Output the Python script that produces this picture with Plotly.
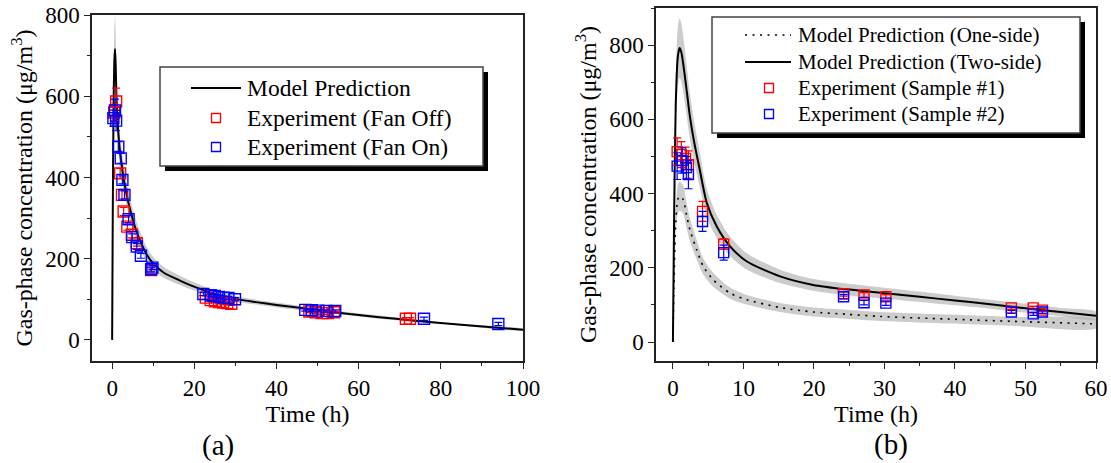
import plotly.graph_objects as go

W, H = 1111, 463
FONT = "Liberation Serif"

# ---------------- Panel (a): fan off / fan on ----------------
a_model_t = [0, 0.15, 0.35, 0.55, 0.7, 0.85, 1.1, 1.5, 1.95, 2.5, 3, 3.7, 4.4, 5.2, 6, 7,
             8.4, 10, 12.5, 16.5, 19, 25, 30, 35, 40, 47, 55, 65, 73, 85, 100]
a_model_c = [0, 300, 580, 690, 716, 680, 583, 510, 460, 418, 385, 350, 320, 290, 265, 240,
             210, 188, 166, 146, 135, 113, 101, 93, 86, 77, 67, 56, 48, 37, 25]
a_band_hi = [0, 340, 650, 770, 800, 760, 640, 560, 500, 455, 418, 380, 348, 316, 289, 262,
             229, 204, 180, 158, 146, 121, 108, 99, 92, 82, 71, 60, 51, 39, 27]
a_band_lo = [0, 260, 520, 620, 640, 610, 530, 465, 420, 384, 354, 322, 294, 266, 243, 220,
             193, 173, 153, 135, 125, 105, 94, 87, 80, 72, 63, 52, 45, 35, 23]

a_off_t = [0.5, 0.97, 1.95, 2.4, 2.8, 3.7, 4.8, 6.0, 9.5,
           22.8, 24.0, 25.0, 26.0, 27.0, 28.0, 29.0,
           48.0, 49.5, 51.0, 52.5, 54.0, 71.5, 72.5]
a_off_c = [560, 587, 410, 357, 316, 279, 259, 238, 172,
           104, 98, 95, 93, 92, 91, 89,
           70, 68, 66, 66, 68, 52, 52]
a_off_e = [20, 33, 12, 12, 10, 9, 8, 7, 5,
           4, 4, 4, 4, 4, 4, 4,
           3, 3, 3, 3, 3, 3, 3]

a_on_t = [0.3, 0.7, 0.97, 1.5, 2.1, 2.5, 3.0, 4.0, 4.9, 6.0, 7.0, 9.5, 9.8,
          22.2, 24.0, 25.0, 26.0, 27.1, 28.3, 29.9,
          47.0, 48.6, 50.2, 52.2, 54.3, 75.9, 94.0]
a_on_c = [546, 565, 540, 476, 447, 394, 357, 297, 253, 230, 207, 174, 178,
          113, 110, 108, 106, 104, 103, 100,
          74, 73, 72, 71, 71, 52, 39]
a_on_e = [20, 28, 25, 12, 12, 10, 10, 9, 8, 7, 6, 5, 5,
          4, 4, 4, 4, 4, 4, 4,
          3, 3, 3, 3, 3, 4, 4]

a_legend = ["Model Prediction", "Experiment (Fan Off)", "Experiment (Fan On)"]

# ---------------- Panel (b): one-side / two-side ----------------
b_two_t = [0, 0.15, 0.4, 0.7, 0.95, 1.2, 1.6, 2.0, 2.4, 3.0, 3.8, 4.8, 6.2, 8.1, 10.5,
           15.2, 19.9, 24.6, 29.4, 35, 40, 45, 50, 55, 60]
b_two_c = [0, 300, 640, 770, 792, 780, 730, 670, 609, 540, 465, 375, 312, 258, 217,
           177, 154, 142, 133, 122, 112, 102, 91, 81, 71]
b_two_hi = [0, 330, 705, 850, 872, 858, 803, 737, 670, 594, 512, 413, 343, 284, 239,
            195, 170, 158, 148, 136, 125, 114, 103, 92, 82]
b_two_lo = [0, 270, 575, 690, 712, 702, 657, 603, 548, 486, 418, 337, 281, 232, 195,
            159, 138, 126, 118, 108, 99, 90, 79, 70, 60]

b_one_t = [0, 0.15, 0.4, 0.7, 1.0, 1.46, 1.9, 2.4, 3.36, 4.3, 5.7, 8.1, 10.5, 15.2,
           19.9, 24.6, 29.4, 39, 48, 60]
b_one_c = [0, 150, 320, 385, 393, 384, 345, 303, 249, 204, 168, 132, 114, 93,
           81, 75, 69, 62, 56, 49]
b_one_hi = [0, 165, 352, 424, 432, 422, 380, 334, 275, 226, 187, 147, 127, 105,
            93, 87, 81, 74, 68, 61]
b_one_lo = [0, 135, 288, 346, 354, 346, 310, 272, 223, 182, 149, 117, 101, 81,
            69, 63, 57, 50, 44, 37]

b_s1_t = [0.6, 1.2, 1.8, 2.2, 4.2, 7.2, 24.2, 27.1, 30.2, 48.0, 51.1, 52.4]
b_s1_c = [513, 505, 495, 478, 352, 264, 130, 127, 122, 92, 92, 86]
b_s1_e = [37, 35, 30, 37, 27, 14, 6, 6, 6, 4, 4, 4]

b_s2_t = [0.6, 1.3, 1.9, 2.2, 4.2, 7.2, 24.2, 27.1, 30.2, 48.0, 51.1, 52.4]
b_s2_c = [474, 489, 470, 451, 325, 241, 122, 106, 105, 81, 76, 81]
b_s2_e = [36, 34, 30, 38, 27, 20, 6, 6, 6, 4, 4, 4]

b_legend = ["Model Prediction (One-side)", "Model Prediction (Two-side)",
            "Experiment (Sample #1)", "Experiment (Sample #2)"]

BAND = "rgba(185,185,185,0.72)"
RED = "#ff0000"
BLUE = "#0000ff"
DOTS = "2px,5.5px"


def band(t, lo, hi, xa, ya):
    return go.Scatter(x=list(t) + list(t)[::-1], y=list(hi) + list(lo)[::-1],
                      fill="toself", fillcolor=BAND, line=dict(width=0, shape="spline", smoothing=0.7),
                      mode="lines", hoverinfo="skip", showlegend=False,
                      xaxis=xa, yaxis=ya)


def curve(t, c, xa, ya, dash="solid", width=2):
    return go.Scatter(x=t, y=c, mode="lines", showlegend=False,
                      line=dict(color="black", width=width, dash=dash,
                                shape="spline", smoothing=0.7),
                      xaxis=xa, yaxis=ya)


def points(t, c, e, color, size, xa, ya):
    return go.Scatter(x=t, y=c, mode="markers", showlegend=False,
                      marker=dict(symbol="square-open", size=size, color=color,
                                  line=dict(width=1.4, color=color)),
                      error_y=dict(type="data", array=e, visible=True, color=color,
                                   thickness=1.2, width=4),
                      xaxis=xa, yaxis=ya)


fig = go.Figure()

# panel (a)
fig.add_trace(band(a_model_t, a_band_lo, a_band_hi, "x", "y"))
fig.add_trace(curve(a_model_t, a_model_c, "x", "y"))
fig.add_trace(points(a_off_t, a_off_c, a_off_e, RED, 11, "x", "y"))
fig.add_trace(points(a_on_t, a_on_c, a_on_e, BLUE, 11, "x", "y"))

# panel (b)
fig.add_trace(band(b_one_t, b_one_lo, b_one_hi, "x2", "y2"))
fig.add_trace(band(b_two_t, b_two_lo, b_two_hi, "x2", "y2"))
fig.add_trace(curve(b_one_t, b_one_c, "x2", "y2", dash=DOTS, width=1.6))
fig.add_trace(curve(b_two_t, b_two_c, "x2", "y2"))
fig.add_trace(points(b_s1_t, b_s1_c, b_s1_e, RED, 10, "x2", "y2"))
fig.add_trace(points(b_s2_t, b_s2_c, b_s2_e, BLUE, 10, "x2", "y2"))

AX = "#222222"
TICKFONT = dict(family=FONT, size=23, color="black")
TITLEFONT = dict(family=FONT, size=24, color="black")


def px_x(p):
    return p / W


def px_y(p):
    return (H - p) / H


def main_axis(domain, rng, dtick, minor_dtick, anchor, title, standoff):
    return dict(domain=domain, range=rng, dtick=dtick, tick0=0, anchor=anchor,
                showline=True, linecolor=AX, linewidth=1.5, mirror=True,
                ticks="outside", ticklen=6, tickwidth=1.4, tickcolor=AX,
                minor=dict(ticks="outside", ticklen=3, tickwidth=1.2, tickcolor=AX,
                           dtick=minor_dtick, tick0=0),
                showgrid=False, zeroline=False, tickfont=TICKFONT, automargin=False,
                title=dict(text=title, font=TITLEFONT, standoff=standoff))


def inner_axis(overlay, side, rng, dtick, minor_dtick, anchor):
    return dict(overlaying=overlay, side=side, range=rng, dtick=dtick, tick0=0, anchor=anchor,
                showline=False, ticks="inside", ticklen=4, tickwidth=1.2, tickcolor=AX,
                minor=dict(ticks="inside", ticklen=2, tickwidth=1, tickcolor=AX,
                           dtick=minor_dtick, tick0=0),
                showticklabels=False, showgrid=False, zeroline=False, automargin=False)


xa_dom = [px_x(92), px_x(523)]
xb_dom = [px_x(656), px_x(1096)]
ya_dom = [px_y(361), px_y(15)]
yb_dom = [px_y(361), px_y(8)]

xa_rng = [-4.9, 100]
ya_rng = [-52, 800]
xb_rng = [-2.4, 60]
yb_rng = [-51, 900]

ytitle = "Gas-phase concentration (\u03bcg/m<sup>3</sup>)"

fig.update_layout(
    width=W, height=H, margin=dict(l=0, r=0, t=0, b=0, autoexpand=False),
    paper_bgcolor="white", plot_bgcolor="rgba(0,0,0,0)",
    font=dict(family=FONT, color="black"), showlegend=False,
    xaxis=main_axis(xa_dom, xa_rng, 20, 10, "y", "Time (h)", 4),
    yaxis=main_axis(ya_dom, ya_rng, 200, 100, "x", ytitle, 6),
    xaxis2=main_axis(xb_dom, xb_rng, 10, 5, "y2", "Time (h)", 4),
    yaxis2=main_axis(yb_dom, yb_rng, 200, 100, "x2", ytitle, 6),
    xaxis3=inner_axis("x", "top", xa_rng, 20, 10, "y"),
    yaxis3=inner_axis("y", "right", ya_rng, 200, 100, "x"),
    xaxis4=inner_axis("x2", "top", xb_rng, 10, 5, "y2"),
    yaxis4=inner_axis("y2", "right", yb_rng, 200, 100, "x2"),
)

# legend frames with drop shadows
frames = [((160, 67, 483, 166), 5), ((712, 17, 1080, 133), 5)]
for (x0, y0, x1, y1), off in frames:
    fig.add_shape(type="rect", xref="paper", yref="paper",
                  x0=px_x(x0 + off), x1=px_x(x1 + off), y0=px_y(y1 + off), y1=px_y(y0 + off),
                  fillcolor="black", line=dict(width=0), layer="above")
    fig.add_shape(type="rect", xref="paper", yref="paper",
                  x0=px_x(x0), x1=px_x(x1), y0=px_y(y1), y1=px_y(y0),
                  fillcolor="white", line=dict(color="#444444", width=1.5), layer="above")


def legend_line(xc, yc, half, dash, width):
    fig.add_shape(type="line", xref="paper", yref="paper",
                  x0=px_x(xc - half), x1=px_x(xc + half), y0=px_y(yc), y1=px_y(yc),
                  line=dict(color="black", width=width, dash=dash), layer="above")


def legend_square(xc, yc, color, half=4.5):
    fig.add_shape(type="rect", xref="paper", yref="paper",
                  x0=px_x(xc - half), x1=px_x(xc + half), y0=px_y(yc + half), y1=px_y(yc - half),
                  line=dict(color=color, width=1.3), fillcolor="rgba(0,0,0,0)", layer="above")


def text_at(x, yc, text, size, xanchor):
    fig.add_annotation(text=text, x=px_x(x), y=px_y(yc), xref="paper", yref="paper",
                       xanchor=xanchor, yanchor="middle", showarrow=False,
                       font=dict(family=FONT, size=size, color="black"))


# legend of panel (a)
a_rows = [88, 118, 147]
legend_line(216, a_rows[0], 25, "solid", 2)
legend_square(216, a_rows[1], RED)
legend_square(216, a_rows[2], BLUE)
for yc, label in zip(a_rows, a_legend):
    text_at(245, yc, label, 23.5, "left")

# legend of panel (b)
b_rows = [35, 62, 88, 114]
legend_line(768, b_rows[0], 23, DOTS, 1.6)
legend_line(768, b_rows[1], 23, "solid", 2)
legend_square(769, b_rows[2], RED)
legend_square(769, b_rows[3], BLUE)
for yc, label in zip(b_rows, b_legend):
    text_at(796, yc, label, 21, "left")

# panel captions
text_at(218, 445, "(a)", 29, "center")
text_at(891, 444, "(b)", 29, "center")

fig.write_html("out.html")
